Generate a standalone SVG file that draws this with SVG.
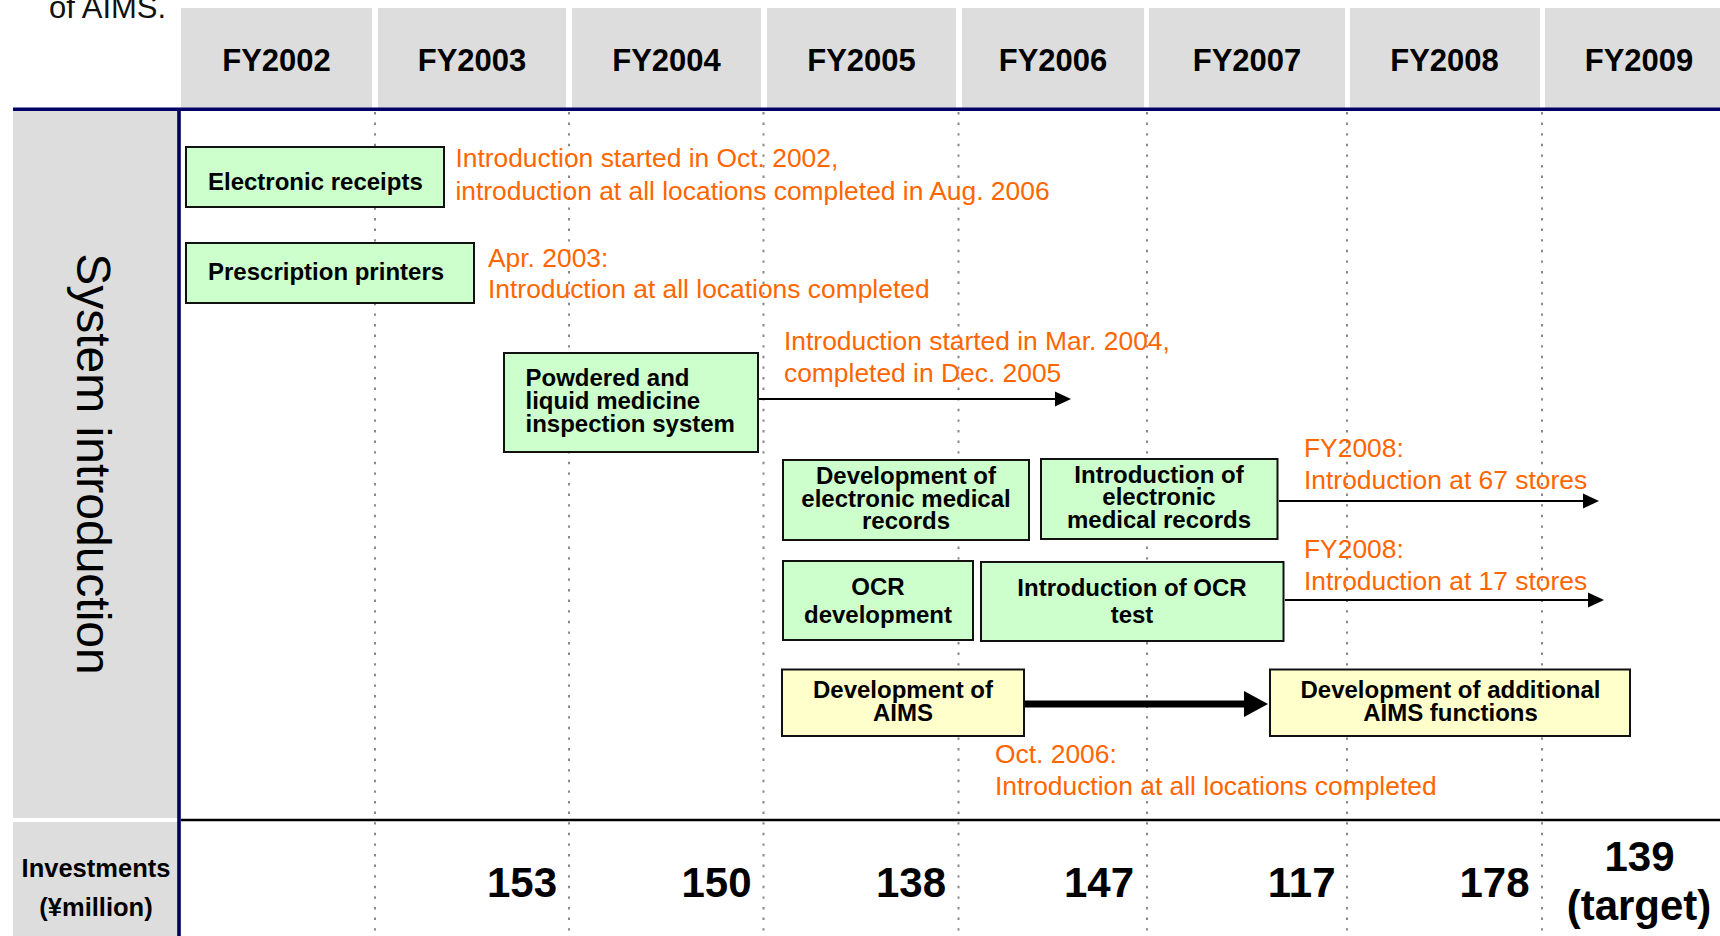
<svg xmlns="http://www.w3.org/2000/svg" width="1720" height="936" viewBox="0 0 1720 936">
<style>
.hdr{fill:#DDDDDD}
.hdrt{font-family:"Liberation Sans",Arial,sans-serif;font-weight:bold;font-size:31px;fill:#000;text-anchor:middle}
.grid{stroke:#888;stroke-width:2;stroke-dasharray:2.4 8.2}
.g{fill:#CCFFCC;stroke:#111;stroke-width:2}
.y{fill:#FFFFCC;stroke:#111;stroke-width:2}
.bt{font-family:"Liberation Sans",Arial,sans-serif;font-weight:bold;font-size:24px;fill:#000}
.c{text-anchor:middle}
.or{font-family:"Liberation Sans",Arial,sans-serif;font-size:26.4px;fill:#FF6600}
.num{font-family:"Liberation Sans",Arial,sans-serif;font-weight:bold;font-size:42px;fill:#000;text-anchor:end}
.thin{stroke:#000;stroke-width:2;fill:none;marker-end:url(#ah)}
.thick{stroke:#000;stroke-width:7;fill:none;marker-end:url(#ahb)}
</style>
<defs>
<marker id="ah" markerUnits="userSpaceOnUse" markerWidth="16" markerHeight="15" refX="8" refY="7.5" orient="auto" overflow="visible">
<path d="M0,0 L16,7.5 L0,15 z" fill="#000"/>
</marker>
<marker id="ahb" markerUnits="userSpaceOnUse" markerWidth="24" markerHeight="26" refX="12" refY="13" orient="auto" overflow="visible">
<path d="M0,0 L24,13 L0,26 z" fill="#000"/>
</marker>
</defs>
<rect width="1720" height="936" fill="#fff"/>
<text x="49" y="18.3" font-family="Liberation Sans, Arial, sans-serif" font-size="31" fill="#111">of AIMS.</text>
<g id="header">
<rect class="hdr" x="181" y="8" width="191" height="101"/>
<rect class="hdr" x="378" y="8" width="188" height="101"/>
<rect class="hdr" x="572" y="8" width="189" height="101"/>
<rect class="hdr" x="767" y="8" width="189" height="101"/>
<rect class="hdr" x="962" y="8" width="182" height="101"/>
<rect class="hdr" x="1149" y="8" width="196" height="101"/>
<rect class="hdr" x="1350" y="8" width="190" height="101"/>
<rect class="hdr" x="1545" y="8" width="180" height="101"/>
<text class="hdrt" x="276.5" y="70.7">FY2002</text>
<text class="hdrt" x="472" y="70.7">FY2003</text>
<text class="hdrt" x="666.5" y="70.7">FY2004</text>
<text class="hdrt" x="861.5" y="70.7">FY2005</text>
<text class="hdrt" x="1053" y="70.7">FY2006</text>
<text class="hdrt" x="1247" y="70.7">FY2007</text>
<text class="hdrt" x="1444.5" y="70.7">FY2008</text>
<text class="hdrt" x="1639" y="70.7">FY2009</text>
</g>
<g id="rowlabels">
<rect class="hdr" x="13" y="110" width="166" height="708"/>
<rect class="hdr" x="13" y="822" width="166" height="114"/>
<text transform="translate(77,464) rotate(90)" font-family="Liberation Sans, Arial, sans-serif" font-size="48" fill="#000" text-anchor="middle">System introduction</text>
<text x="96" y="876.7" font-family="Liberation Sans, Arial, sans-serif" font-weight="bold" font-size="25.5" text-anchor="middle">Investments</text>
<text x="96" y="916" font-family="Liberation Sans, Arial, sans-serif" font-weight="bold" font-size="25.5" text-anchor="middle">(¥million)</text>
</g>
<g id="grid">
<line class="grid" x1="375" y1="112" x2="375" y2="936"/>
<line class="grid" x1="569" y1="112" x2="569" y2="936"/>
<line class="grid" x1="763.5" y1="112" x2="763.5" y2="936"/>
<line class="grid" x1="958.5" y1="112" x2="958.5" y2="936"/>
<line class="grid" x1="1147" y1="112" x2="1147" y2="936"/>
<line class="grid" x1="1347" y1="112" x2="1347" y2="936"/>
<line class="grid" x1="1542" y1="112" x2="1542" y2="936"/>
<line x1="13" y1="109.2" x2="1720" y2="109.2" stroke="#000066" stroke-width="3.6"/>
<line x1="179" y1="109" x2="179" y2="936" stroke="#000066" stroke-width="3.6"/>
<line x1="181" y1="820" x2="1720" y2="820" stroke="#000" stroke-width="2.4"/>
</g>
<g id="connectors">
<line class="thin" x1="758" y1="399" x2="1063" y2="399"/>
<line class="thin" x1="1279" y1="501" x2="1591" y2="501"/>
<line class="thin" x1="1285" y1="600" x2="1596" y2="600"/>
<line class="thick" x1="1025" y1="704" x2="1256" y2="704"/>
</g>
<g id="electronic-receipts">
<rect class="g" x="186" y="147" width="258" height="60"/>
<text class="bt" x="208" y="190">Electronic receipts</text>
</g>
<g id="prescription-printers">
<rect class="g" x="186" y="243" width="288" height="60"/>
<text class="bt" x="208" y="280">Prescription printers</text>
</g>
<g id="powdered">
<rect class="g" x="504" y="353" width="254" height="99"/>
<text class="bt" x="525.5" y="386">Powdered and</text>
<text class="bt" x="525.5" y="409">liquid medicine</text>
<text class="bt" x="525.5" y="432">inspection system</text>
</g>
<g id="dev-emr">
<rect class="g" x="783" y="460" width="246" height="80"/>
<text class="bt c" x="906" y="484.3">Development of</text>
<text class="bt c" x="906" y="506.7">electronic medical</text>
<text class="bt c" x="906" y="529">records</text>
</g>
<g id="intro-emr">
<rect class="g" x="1041" y="459" width="236.5" height="80"/>
<text class="bt c" x="1159" y="482.7">Introduction of</text>
<text class="bt c" x="1159" y="505">electronic</text>
<text class="bt c" x="1159" y="528.3">medical records</text>
</g>
<g id="ocr-dev">
<rect class="g" x="783" y="561" width="190" height="79"/>
<text class="bt c" x="878" y="595">OCR</text>
<text class="bt c" x="878" y="623.3">development</text>
</g>
<g id="ocr-intro">
<rect class="g" x="981" y="562" width="302.5" height="79"/>
<text class="bt c" x="1132" y="596">Introduction of OCR</text>
<text class="bt c" x="1132" y="623.3">test</text>
</g>
<g id="dev-aims">
<rect class="y" x="782" y="669.5" width="242" height="66.5"/>
<text class="bt c" x="903" y="698.3">Development of</text>
<text class="bt c" x="903" y="720.7">AIMS</text>
</g>
<g id="dev-additional">
<rect class="y" x="1270" y="669.5" width="360" height="66.5"/>
<text class="bt c" x="1450.5" y="698.3">Development of additional</text>
<text class="bt c" x="1450.5" y="720.7">AIMS functions</text>
</g>
<g id="annotations">
<text class="or" x="455.4" y="167">Introduction started in Oct. 2002,</text>
<text class="or" x="455.4" y="199.5">introduction at all locations completed in Aug. 2006</text>
<text class="or" x="488" y="266.7">Apr. 2003:</text>
<text class="or" x="488" y="298">Introduction at all locations completed</text>
<text class="or" x="784" y="350">Introduction started in Mar. 2004,</text>
<text class="or" x="784" y="381.7">completed in Dec. 2005</text>
<text class="or" x="1304" y="457.3">FY2008:</text>
<text class="or" x="1304" y="489.3">Introduction at 67 stores</text>
<text class="or" x="1304" y="558.3">FY2008:</text>
<text class="or" x="1304" y="590">Introduction at 17 stores</text>
<text class="or" x="995" y="763.3">Oct. 2006:</text>
<text class="or" x="995" y="795">Introduction at all locations completed</text>
</g>
<g id="investments">
<text class="num" x="557" y="896.7">153</text>
<text class="num" x="751.5" y="896.7">150</text>
<text class="num" x="946" y="896.7">138</text>
<text class="num" x="1134" y="896.7">147</text>
<text class="num" x="1335.5" y="896.7">117</text>
<text class="num" x="1529.5" y="896.7">178</text>
<text class="num" x="1639.5" y="871" text-anchor="middle" style="text-anchor:middle">139</text>
<text class="num" x="1639" y="920" style="text-anchor:middle">(target)</text>
</g>
</svg>
